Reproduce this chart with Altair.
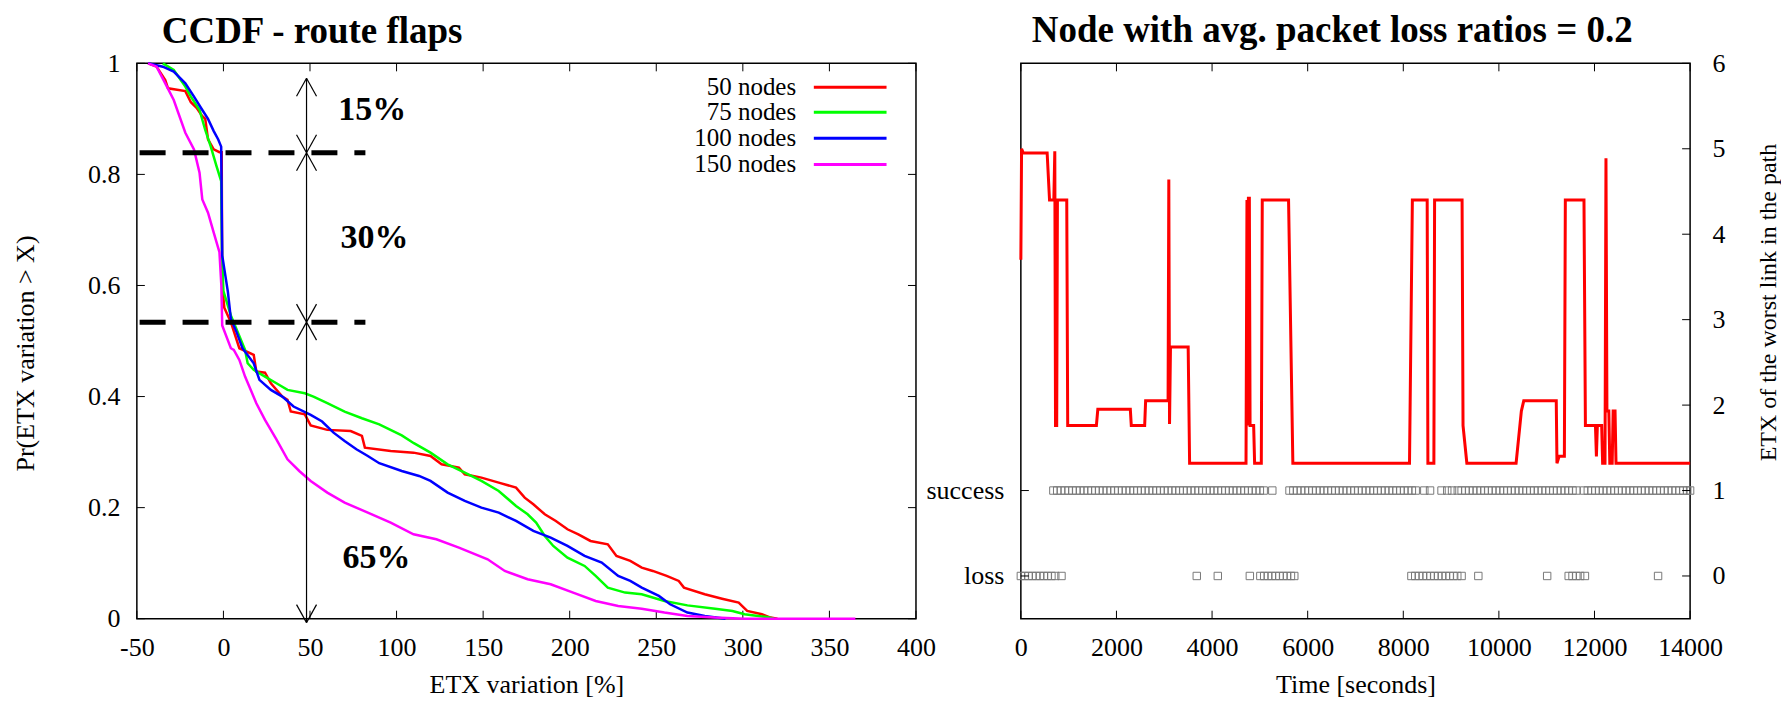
import altair as alt
import pandas as pd

FONT = "Liberation Serif"

# ------------------------------------------------------------------
# Left panel: CCDF of ETX variation (route flaps)
# ------------------------------------------------------------------
series_names = ["50 nodes", "75 nodes", "100 nodes", "150 nodes"]
series_colors = ["#ff0000", "#00ff00", "#0000ff", "#ff00ff"]

n50 = [(-43.5, 1.0), (-38.6, 0.994), (-33.6, 0.97), (-32, 0.955), (-22, 0.95), (-18.8, 0.93),
       (-15.5, 0.92), (-12.2, 0.905), (-10.5, 0.90), (-8.9, 0.863), (-5.6, 0.845), (-2.3, 0.84),
       (-1, 0.84), (-0.7, 0.60), (0.5, 0.56), (4.3, 0.534), (9.2, 0.487), (17.5, 0.475), (19, 0.445),
       (24, 0.443), (27.4, 0.424), (34, 0.40), (37, 0.394), (38.9, 0.373), (47, 0.368), (50.4, 0.348),
       (60, 0.34), (73.5, 0.338), (80, 0.329), (81.7, 0.308), (96.6, 0.302), (109.8, 0.299),
       (119.6, 0.293), (126, 0.278), (136, 0.272), (139.4, 0.26), (149, 0.254), (159, 0.245),
       (169, 0.236), (174, 0.218), (179, 0.206), (185.6, 0.188), (192, 0.176), (198.7, 0.161),
       (205, 0.152), (212, 0.14), (222, 0.134), (227, 0.113), (235, 0.104), (241.6, 0.092),
       (248, 0.086), (256, 0.077), (263, 0.068), (266, 0.056), (278, 0.044), (288, 0.036),
       (297.6, 0.029), (302.5, 0.014), (311, 0.008), (316, 0.002), (320, 0.0)]

n75 = [(-35, 1.0), (-28.7, 0.988), (-22, 0.958), (-18.8, 0.94), (-13.8, 0.916), (-10.5, 0.88),
       (-7.3, 0.85), (-4, 0.815), (-1.3, 0.788), (-0.8, 0.65), (0, 0.59), (4.3, 0.546), (12.5, 0.484),
       (14, 0.46), (17.5, 0.448), (24, 0.436), (30.6, 0.424), (37, 0.412), (47, 0.406), (52, 0.40),
       (60, 0.388), (70, 0.373), (80, 0.361), (90, 0.35), (103, 0.33), (110, 0.316), (119.6, 0.299),
       (129.5, 0.278), (139.4, 0.263), (149, 0.248), (159, 0.23), (169, 0.203), (175.7, 0.188),
       (180.6, 0.173), (185.6, 0.149), (190.5, 0.131), (198.7, 0.11), (208.6, 0.095), (215, 0.077),
       (222, 0.056), (232, 0.047), (241.6, 0.044), (254.7, 0.032), (268, 0.024), (284, 0.018),
       (294, 0.014), (301, 0.008), (314, 0.003), (318, 0.0)]

n100 = [(-43.5, 1.0), (-35, 0.994), (-28.7, 0.985), (-22, 0.964), (-17, 0.94), (-12.2, 0.916),
        (-8.9, 0.90), (-5.6, 0.878), (-3, 0.863), (-1.3, 0.85), (-0.7, 0.654), (2.6, 0.588),
        (4.3, 0.54), (7.6, 0.516), (11, 0.487), (17.5, 0.46), (20.8, 0.43), (27.4, 0.412), (34, 0.40),
        (40.5, 0.382), (50.4, 0.367), (57, 0.355), (63.6, 0.335), (70, 0.32), (76.8, 0.305),
        (83.4, 0.293), (90, 0.28), (103, 0.266), (113, 0.257), (119.6, 0.248), (129.5, 0.227),
        (139.4, 0.212), (149, 0.20), (159, 0.191), (169, 0.176), (179, 0.158), (189, 0.146),
        (198.7, 0.131), (208.6, 0.113), (218.5, 0.101), (228, 0.077), (235, 0.068), (241.6, 0.056),
        (251.5, 0.041), (258, 0.026), (268, 0.011), (278, 0.005), (290, 0.0)]

n150 = [(-43.5, 1.0), (-38.6, 0.994), (-33.6, 0.964), (-28.7, 0.934), (-22, 0.875), (-17, 0.845),
        (-13.8, 0.803), (-12.2, 0.755), (-8.9, 0.731), (-5.6, 0.695), (-2.3, 0.66), (-1.2, 0.60),
        (-0.7, 0.528), (4.3, 0.487), (6, 0.484), (9.2, 0.466), (12.5, 0.436), (15.8, 0.412),
        (19, 0.388), (24, 0.358), (30.6, 0.323), (37, 0.287), (43.8, 0.266), (50.4, 0.248),
        (60, 0.227), (70, 0.209), (83.4, 0.191), (96.6, 0.173), (109.8, 0.152), (123, 0.143),
        (136, 0.128), (152.6, 0.107), (162.5, 0.086), (175.7, 0.071), (189, 0.062), (202, 0.047),
        (215, 0.032), (228, 0.023), (241.6, 0.018), (254.7, 0.011), (268, 0.005), (284, 0.002),
        (301, 0.0), (365, 0.0)]

left_xticks = [-50, 0, 50, 100, 150, 200, 250, 300, 350, 400]
left_yticks = [0, 0.2, 0.4, 0.6, 0.8, 1]

split_levels = [0.839, 0.534]          # thick dashed horizontal markers
split_x_from = -48.4
split_x_to = 82
arrow_x = 48
arrow_up_tips = [0.973, 0.839, 0.534]
arrow_down_tips = [0.839, 0.534, -0.007]
pct_labels = ["15%", "30%", "65%"]
pct_x = [86, 87.3, 88.4]
pct_y = [0.916, 0.686, 0.11]

legend_y = [0.957, 0.912, 0.865, 0.818]
legend_text_x = 330.8
legend_line_from = 341
legend_line_to = 383

# ------------------------------------------------------------------
# Right panel: one node, packet success/loss and ETX of worst link
# ------------------------------------------------------------------
etx_path = [(0, 3.7), (15, 5.0), (50, 4.95), (550, 4.95), (600, 4.4), (690, 4.4), (710, 4.97),
            (725, 1.76), (750, 1.76), (765, 4.4), (960, 4.4), (980, 1.76), (1580, 1.76),
            (1610, 1.95), (2290, 1.95), (2310, 1.76), (2590, 1.76), (2610, 2.05), (3080, 2.05),
            (3095, 4.64), (3110, 1.78), (3130, 2.68), (3500, 2.68), (3530, 1.32), (4710, 1.32),
            (4730, 4.4), (4745, 1.76), (4760, 4.42), (4780, 4.42), (4795, 1.76), (4870, 1.76),
            (4890, 1.32), (5030, 1.32), (5050, 4.4), (5600, 4.4), (5690, 1.32), (8130, 1.32),
            (8190, 4.4), (8500, 4.4), (8515, 1.32), (8640, 1.32), (8655, 4.4), (9230, 4.4),
            (9250, 1.76), (9330, 1.32), (10360, 1.32), (10470, 1.93), (10520, 2.05), (11200, 2.05),
            (11215, 1.32), (11260, 1.40), (11370, 1.40), (11390, 4.4), (11780, 4.4), (11810, 1.76),
            (12020, 1.76), (12040, 1.40), (12060, 1.76), (12150, 1.76), (12170, 1.32), (12220, 1.32),
            (12240, 4.89), (12260, 1.93), (12300, 1.93), (12320, 1.32), (12370, 1.32), (12390, 1.93),
            (12430, 1.93), (12450, 1.32), (14000, 1.32)]

success_times = [680, 760, 840, 920, 1000, 1080, 1160, 1240, 1320, 1400, 1480, 1560, 1640, 1720,
                 1800, 1880, 1960, 2040, 2120, 2200, 2280, 2360, 2440, 2520, 2600, 2680, 2760, 2840,
                 2920, 3000, 3080, 3160, 3240, 3320, 3400, 3480, 3560, 3640, 3720, 3800, 3880, 3960,
                 4040, 4120, 4200, 4280, 4360, 4440, 4520, 4600, 4680, 4760, 4840, 4920, 5000, 5080,
                 5260,
                 5620, 5700, 5780, 5860, 5940, 6020, 6100, 6180, 6260, 6340, 6420, 6500, 6580, 6660,
                 6740, 6820, 6900, 6980, 7060, 7140, 7220, 7300, 7380, 7460, 7540, 7620, 7700, 7780,
                 7860, 7940, 8020, 8100, 8180, 8260,
                 8440, 8560, 8800, 8920, 9020,
                 9140, 9220, 9300, 9380, 9460, 9540, 9620, 9700, 9780, 9860, 9940, 10020, 10100,
                 10180, 10260, 10340, 10420, 10500, 10580, 10660, 10740, 10820, 10900, 10980, 11060,
                 11140, 11220, 11300, 11380, 11460, 11540, 11620,
                 11780, 11860, 11940, 12020, 12100, 12180, 12260, 12340, 12420, 12500, 12580, 12660,
                 12740, 12820, 12900, 12980, 13060, 13140, 13220, 13300, 13380, 13460, 13540, 13620,
                 13700, 13780, 13860, 13940, 14000]

loss_times = [0, 80, 160, 240, 320, 400, 480, 560, 640, 720, 850, 3680, 4120, 4790,
              5010, 5090, 5170, 5250, 5330, 5410, 5490, 5570, 5650, 5720,
              8170, 8250, 8330, 8410, 8490, 8570, 8650, 8730, 8810, 8890, 8970, 9050, 9130, 9220,
              9570, 11010, 11460, 11540, 11620, 11700, 11800, 13330]

right_xticks = [0, 2000, 4000, 6000, 8000, 10000, 12000, 14000]
right_yticks = [0, 1, 2, 3, 4, 5, 6]
state_ticks = [0, 1]

# ------------------------------------------------------------------
# Layout constants
# ------------------------------------------------------------------
LW, RW, H = 780, 670, 556
TICK_PX = 8

LX = alt.Scale(domain=[-50, 400], nice=False, zero=False)
LY = alt.Scale(domain=[0, 1], nice=False, zero=False)
RX = alt.Scale(domain=[0, 14000], nice=False, zero=False)
RY = alt.Scale(domain=[-0.5, 6], nice=False, zero=False)

common_axis = dict(grid=False, ticks=False, tickSize=0, domain=False,
                   labelFlush=False, labelOverlap=False)

left_x_axis = alt.Axis(values=left_xticks, title="ETX variation [%]",
                       labelExpr="'' + datum.value", labelPadding=16,
                       titleY=74, titleBaseline="alphabetic", **common_axis)
left_y_axis = alt.Axis(values=left_yticks, title="Pr(ETX variation > X)", format="~g",
                       labelPadding=17, titleAngle=270, titleX=-103,
                       titleY=290, titleBaseline="alphabetic",
                       titleAlign="center", **common_axis)
right_x_axis = alt.Axis(values=right_xticks, title="Time [seconds]",
                        labelExpr="'' + datum.value", labelPadding=16,
                        titleY=74, titleBaseline="alphabetic", **common_axis)
state_axis = alt.Axis(values=state_ticks, title=None, orient="left",
                      labelExpr="datum.value == 1 ? 'success' : 'loss'",
                      labelPadding=17, **common_axis)
etx_axis = alt.Axis(values=right_yticks, title="ETX of the worst link in the path",
                    orient="right", format="d", labelPadding=22, titleAngle=270,
                    titleX=85, titleY=239, titleBaseline="alphabetic", titleFontSize=24,
                    titleAlign="center", **common_axis)


def lx(f):
    return alt.X(f"{f}:Q", scale=LX, axis=left_x_axis)


def ly(f):
    return alt.Y(f"{f}:Q", scale=LY, axis=left_y_axis)


def rx(f):
    return alt.X(f"{f}:Q", scale=RX, axis=right_x_axis)


def rs(f):
    return alt.Y(f"{f}:Q", scale=RY, axis=state_axis)


def re(f):
    return alt.Y(f"{f}:Q", scale=RY, axis=etx_axis)


# ---------------- left panel layers ----------------
frames = []
for pts, name in zip([n50, n75, n100, n150], series_names):
    frames.append(pd.DataFrame({"x": [p[0] for p in pts], "y": [p[1] for p in pts],
                                "series": name, "idx": list(range(len(pts)))}))
curves_df = pd.concat(frames, ignore_index=True)

dxl = 450 * TICK_PX / LW
dyl = TICK_PX / H
lt_rows = []
for v in left_xticks:
    lt_rows.append({"x": v, "x2": v, "y": 0, "y2": dyl})
    lt_rows.append({"x": v, "x2": v, "y": 1, "y2": 1 - dyl})
for v in left_yticks:
    lt_rows.append({"x": -50, "x2": -50 + dxl, "y": v, "y2": v})
    lt_rows.append({"x": 400, "x2": 400 - dxl, "y": v, "y2": v})
lt_df = pd.DataFrame(lt_rows)

ticks_l = alt.Chart(lt_df).mark_rule(color="black", strokeWidth=1).encode(
    x=lx("x"), x2="x2:Q", y=ly("y"), y2="y2:Q")

curves = alt.Chart(curves_df).mark_line(strokeWidth=2.5).encode(
    x=lx("x"), y=ly("y"),
    color=alt.Color("series:N", scale=alt.Scale(domain=series_names, range=series_colors),
                    legend=None),
    order=alt.Order("idx:Q"))

split_df = pd.DataFrame({"y": split_levels, "x1": split_x_from, "x2": split_x_to})
dashes = alt.Chart(split_df).mark_rule(color="black", strokeWidth=5, strokeDash=[26, 17]).encode(
    x=lx("x1"), x2="x2:Q", y=ly("y"))

ahx = 450 * 10 / LW
ahy = 18 / H
arr_rows = [{"x": arrow_x, "y": arrow_up_tips[0], "x2": arrow_x, "y2": arrow_down_tips[-1]}]
for t in arrow_up_tips:
    arr_rows.append({"x": arrow_x, "y": t, "x2": arrow_x - ahx, "y2": t - ahy})
    arr_rows.append({"x": arrow_x, "y": t, "x2": arrow_x + ahx, "y2": t - ahy})
for t in arrow_down_tips:
    arr_rows.append({"x": arrow_x, "y": t, "x2": arrow_x - ahx, "y2": t + ahy})
    arr_rows.append({"x": arrow_x, "y": t, "x2": arrow_x + ahx, "y2": t + ahy})
arrows = alt.Chart(pd.DataFrame(arr_rows)).mark_rule(color="black", strokeWidth=1.2).encode(
    x=lx("x"), x2="x2:Q", y=ly("y"), y2="y2:Q")

pct_df = pd.DataFrame({"label": pct_labels, "x": pct_x, "y": pct_y})
pct = alt.Chart(pct_df).mark_text(font=FONT, fontSize=34, fontWeight="bold", color="black",
                                  align="center", baseline="middle").encode(
    x=lx("x"), y=ly("y"), text="label:N")

leg_df = pd.DataFrame({"series": series_names, "y": legend_y, "tx": legend_text_x,
                       "l1": legend_line_from, "l2": legend_line_to})
leg_lines = alt.Chart(leg_df).mark_rule(strokeWidth=3).encode(
    x=lx("l1"), x2="l2:Q", y=ly("y"),
    color=alt.Color("series:N", scale=alt.Scale(domain=series_names, range=series_colors),
                    legend=None))
leg_text = alt.Chart(leg_df).mark_text(font=FONT, fontSize=25, color="black", align="right",
                                       baseline="middle").encode(
    x=lx("tx"), y=ly("y"), text="series:N")

left = alt.layer(ticks_l, curves, dashes, arrows, pct, leg_lines, leg_text).properties(
    width=LW, height=H,
    title=alt.TitleParams(text="CCDF - route flaps", anchor="start", frame="group", dx=25,
                          offset=-30, baseline="alphabetic", font=FONT, fontSize=37,
                          fontWeight="bold", color="black"))

# ---------------- right panel layers ----------------
state_df = pd.DataFrame({"t": success_times + loss_times,
                         "state": [1] * len(success_times) + [0] * len(loss_times)})
points = alt.Chart(state_df).mark_point(shape="square", filled=False, size=55, color="#787878",
                                        strokeWidth=1, opacity=1).encode(
    x=rx("t"), y=rs("state"))

dxr = 14000 * TICK_PX / RW
dyr = 6.5 * TICK_PX / H
rt_rows = []
for v in right_xticks:
    rt_rows.append({"x": v, "x2": v, "y": -0.5, "y2": -0.5 + dyr})
    rt_rows.append({"x": v, "x2": v, "y": 6, "y2": 6 - dyr})
for v in state_ticks:
    rt_rows.append({"x": 0, "x2": dxr, "y": v, "y2": v})
for v in right_yticks:
    rt_rows.append({"x": 14000, "x2": 14000 - dxr, "y": v, "y2": v})
ticks_r = alt.Chart(pd.DataFrame(rt_rows)).mark_rule(color="black", strokeWidth=1).encode(
    x=rx("x"), x2="x2:Q", y=rs("y"), y2="y2:Q")

etx_df = pd.DataFrame({"t": [p[0] for p in etx_path], "etx": [p[1] for p in etx_path],
                       "idx": list(range(len(etx_path)))})
etx_line = alt.Chart(etx_df).mark_line(color="#ff0000", strokeWidth=3).encode(
    x=rx("t"), y=re("etx"), order=alt.Order("idx:Q"))

right = alt.layer(alt.layer(points, ticks_r), etx_line).resolve_scale(y="independent").properties(
    width=RW, height=H,
    title=alt.TitleParams(text="Node with avg. packet loss ratios = 0.2", anchor="start",
                          frame="group", dx=11, offset=-29, baseline="alphabetic", font=FONT,
                          fontSize=37, fontWeight="bold", color="black"))

chart = alt.hconcat(left, right, spacing=105, bounds="flush").properties(
    padding={"left": 4, "right": 0, "top": 3, "bottom": 0}
).configure_view(stroke="black", strokeWidth=1.5).configure_axis(
    labelFont=FONT, titleFont=FONT, labelFontSize=26, titleFontSize=26,
    labelColor="black", titleColor="black", titleFontWeight="normal")

chart.save("out.html", embed_options={"renderer": "svg", "actions": False})
